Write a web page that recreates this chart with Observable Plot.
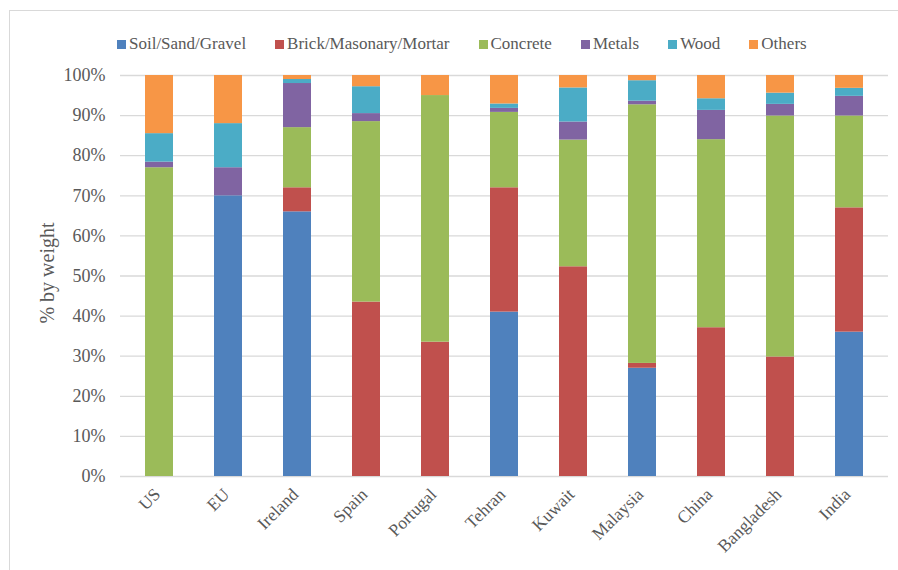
<!DOCTYPE html>
<html>
<head>
<meta charset="utf-8">
<script src="https://cdn.jsdelivr.net/npm/d3@7"></script>
<script src="https://cdn.jsdelivr.net/npm/@observablehq/plot@0.6"></script>
<style>
  html, body { margin: 0; padding: 0; background: #fff; overflow: hidden; width: 898px; height: 570px; }
  #frame { position: absolute; left: 9px; top: 10px; width: 1000px; height: 1000px; border: 1px solid #d9d9d9; box-sizing: border-box; }
  #wrap { position: relative; }
  #legend { height: 60px; box-sizing: border-box; padding: 27px 0 0 117px; display: flex; gap: 29px;
            font-family: "Liberation Serif", "Times New Roman", serif;
            font-size: 17px; line-height: 20px; color: #595959; }
  #legend .item { display: flex; align-items: center; white-space: nowrap; }
  #legend .sw { width: 9px; height: 9px; margin-right: 3px; margin-top: 1px; }
</style>
</head>
<body>
<div id="frame"></div>
<div id="wrap">
  <div id="legend"></div>
  <div id="chart"></div>
</div>
<script>
// Composition of construction & demolition waste by region (% by weight)
const regions = ["US", "EU", "Ireland", "Spain", "Portugal", "Tehran", "Kuwait", "Malaysia", "China", "Bangladesh", "India"];
const seriesNames = ["Soil/Sand/Gravel", "Brick/Masonary/Mortar", "Concrete", "Metals", "Wood", "Others"];
const seriesColors = ["#4F81BD", "#C0504D", "#9BBB59", "#8064A2", "#4BACC6", "#F79646"];

const soil     = [0,    70, 66, 0,    0,    41,   0,    27,   0,    0,    36];
const brick    = [0,    0,  6,  43.5, 33.5, 31,   52.3, 1.2,  37.1, 29.8, 31];
const concrete = [77,   0,  15, 45,   61.5, 18.8, 31.6, 64.5, 46.9, 60.1, 22.9];
const metals   = [1.4,  7,  11, 2,    0,    1,    4.5,  0.9,  7.3,  2.9,  4.9];
const wood     = [7.1,  11, 1,  6.7,  0,    1.1,  8.5,  5.1,  2.9,  2.8,  2];
const others   = [14.5, 12, 1,  2.8,  5,    7.1,  3.1,  1.3,  5.8,  4.4,  3.2];

const yTicks = [0, 10, 20, 30, 40, 50, 60, 70, 80, 90, 100];
const yTitle = "% by weight";

const seriesValues = [soil, brick, concrete, metals, wood, others];
const rows = [];
seriesNames.forEach((name, s) => {
  regions.forEach((region, i) => rows.push({region, series: name, value: seriesValues[s][i]}));
});

// legend
const legend = document.getElementById("legend");
seriesNames.forEach((name, i) => {
  const item = document.createElement("div");
  item.className = "item";
  const sw = document.createElement("span");
  sw.className = "sw";
  sw.style.background = seriesColors[i];
  item.appendChild(sw);
  item.appendChild(document.createTextNode(name));
  legend.appendChild(item);
});

const serif = "'Liberation Serif', 'Times New Roman', serif";

const chart = Plot.plot({
  width: 898,
  height: 510,
  marginTop: 15,
  marginBottom: 94,
  marginLeft: 120,
  marginRight: 10,
  style: { fontFamily: serif, fontSize: "18px", color: "#595959", background: "transparent" },
  x: { type: "band", domain: regions, paddingInner: 0.6, paddingOuter: 0.3, axis: null },
  y: { domain: [0, 100], axis: null },
  color: { domain: seriesNames, range: seriesColors },
  marks: [
    Plot.ruleY(yTicks, { stroke: "#d9d9d9", strokeWidth: 1.3 }),
    Plot.barY(rows, { x: "region", y: "value", fill: "series" }),
    Plot.axisY({ ticks: yTicks, tickFormat: d => d + "%", tickSize: 0, tickPadding: 15, label: null, fontSize: 18, fontFamily: serif }),
    Plot.axisX({ tickRotate: -45, tickSize: 0, tickPadding: 15, dx: -2, label: null, fontSize: 17.5, fontFamily: serif }),
    Plot.text([yTitle], { text: d => d, frameAnchor: "left", dx: -73, dy: -3, rotate: -90, textAnchor: "middle", fontSize: 20, fontFamily: serif, fill: "#595959" })
  ]
});
document.getElementById("chart").appendChild(chart);
</script>
</body>
</html>
